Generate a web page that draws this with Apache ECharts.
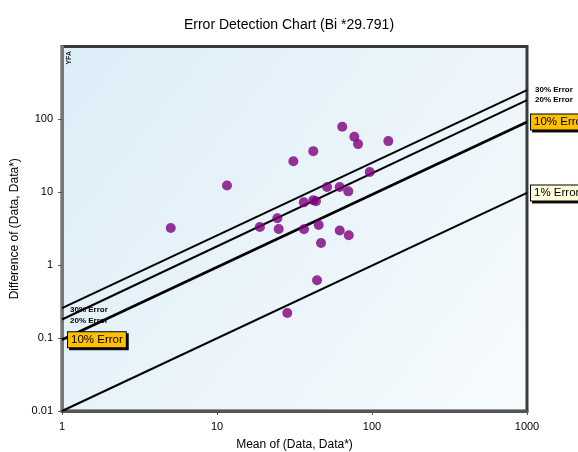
<!DOCTYPE html>
<html><head><meta charset="utf-8">
<script src="https://cdn.jsdelivr.net/npm/echarts@6/dist/echarts.min.js"></script>
<style>html,body{margin:0;padding:0;background:#fff}#c{width:578px;height:452px}</style>
</head><body><div id="c"></div>
<script>
const meanValues = [64.3, 76.9, 81.3, 127.4, 41.8, 31.1, 96.7, 11.6, 51.3, 61.9, 70.3, 36.3, 41.8, 43.5, 24.5, 18.9, 25.0, 36.4, 45.3, 61.9, 70.8, 5.03, 46.9, 44.2, 28.4];
const diffValues = [79.2, 57.8, 45.8, 50.4, 36.7, 26.6, 19.0, 12.4, 11.8, 11.8, 10.3, 7.28, 7.76, 7.52, 4.40, 3.34, 3.14, 3.11, 3.55, 2.99, 2.58, 3.23, 2.02, 0.62, 0.221];
const errorNames = ['30% Error', '20% Error', '10% Error', '1% Error'];
const lineStartX = [1, 1, 1, 1];
const lineStartY = [0.257, 0.18, 0.095, 0.01];
const lineEndX = [1000, 1000, 1000, 1000];
const lineEndY = [252, 184, 92, 9.8];
const xTicks = [1, 10, 100, 1000];
const yTicks = [0.01, 0.1, 1, 10, 100];

const font = 'Liberation Sans, Arial, sans-serif';
const smallLabel = {show: true, position: 'right', fontSize: 8, fontWeight: 'bold', color: '#000', fontFamily: font};
function boxLabel(bg) {
  return {show: true, position: 'right', fontSize: 11.5, color: '#000', fontFamily: font,
    backgroundColor: bg, borderColor: '#000', borderWidth: 1, padding: [2, 3, 1, 3],
    shadowColor: 'rgba(0,0,0,0.9)', shadowOffsetX: 2, shadowOffsetY: 2, shadowBlur: 0};
}
const leftLabels = [
  Object.assign({}, smallLabel, {distance: 8, offset: [0, 2]}),
  Object.assign({}, smallLabel, {distance: 8, offset: [0, 1]}),
  Object.assign(boxLabel('#FFC000'), {distance: 6}),
  {show: false}
];
const rightLabels = [
  Object.assign({}, smallLabel, {distance: 8}),
  Object.assign({}, smallLabel, {distance: 8}),
  Object.assign(boxLabel('#FFC000'), {distance: 4}),
  Object.assign(boxLabel('#FFFFDC'), {distance: 4})
];
const lineWidths = [2, 2, 2.6, 2];

const lineSeries = errorNames.map((n, i) => ({
  name: n, type: 'line', clip: false, silent: true,
  symbol: 'circle', symbolSize: 0.1, showSymbol: true,
  lineStyle: {color: '#000', width: lineWidths[i]},
  itemStyle: {color: '#000'},
  data: [
    {value: [lineStartX[i], lineStartY[i]], label: Object.assign({formatter: n}, leftLabels[i])},
    {value: [lineEndX[i], lineEndY[i]], label: Object.assign({formatter: n}, rightLabels[i])}
  ],
  z: 3
}));

const chart = echarts.init(document.getElementById('c'));
chart.setOption({
  animation: false,
  title: {text: 'Error Detection Chart (Bi *29.791)', left: 'center', top: 13,
    textStyle: {fontSize: 14, fontWeight: 'normal', color: '#000', fontFamily: font}},
  grid: {left: 62, right: 51, top: 46.5, bottom: 41, show: true, outerBoundsMode: 'none', containLabel: false,
    borderColor: '#3a3a3a', borderWidth: 3,
    backgroundColor: {type: 'linear', x: 0, y: 0, x2: 1, y2: 1,
      colorStops: [{offset: 0, color: '#dcedf7'}, {offset: 1, color: '#f7fbfd'}]}},
  xAxis: {type: 'log', logBase: 10, min: 1, max: 1000,
    name: 'Mean of (Data, Data*)', nameLocation: 'middle', nameGap: 28,
    nameTextStyle: {fontSize: 12, color: '#000', fontFamily: font},
    axisLine: {show: true, lineStyle: {color: '#555', width: 3}},
    axisTick: {show: true, length: 4, lineStyle: {color: '#555'}},
    axisLabel: {fontSize: 11, color: '#000', fontFamily: font, margin: 10,
      formatter: v => (xTicks.indexOf(Math.round(v)) >= 0 ? String(Math.round(v)) : '')},
    splitLine: {show: false}, minorTick: {show: false}},
  yAxis: {type: 'log', logBase: 10, min: 0.01, max: 1000,
    name: 'Difference of (Data, Data*)', nameLocation: 'middle', nameGap: 36,
    nameTextStyle: {fontSize: 12, color: '#000', fontFamily: font},
    axisLine: {show: true, lineStyle: {color: '#777', width: 3}},
    axisTick: {show: true, length: 4, lineStyle: {color: '#555'}},
    axisLabel: {fontSize: 11, color: '#000', fontFamily: font, margin: 9, showMaxLabel: false,
      formatter: v => {
        const m = yTicks.find(t => Math.abs(t - v) / t < 1e-6);
        return m === undefined ? '' : String(m);
      }},
    splitLine: {show: false}},
  graphic: [{type: 'text', left: 66, top: 51, rotation: Math.PI / 2,
    style: {text: 'YFA', fontSize: 7, fontWeight: 'bold', fill: '#222', fontFamily: font}}],
  series: lineSeries.concat([{
    name: 'Data', type: 'scatter', symbol: 'circle', symbolSize: 10,
    itemStyle: {color: '#7e007e'},
    data: meanValues.map((x, i) => [x, diffValues[i]]), z: 5
  }])
});
</script></body></html>
